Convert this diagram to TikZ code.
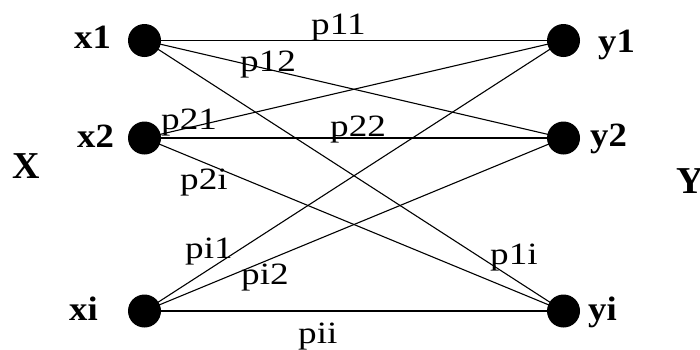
\documentclass[tikz,border=0pt]{standalone}
\usepackage{fontspec}
\setmainfont{Liberation Serif}
\begin{document}
\begin{tikzpicture}[x=1pt,y=-1pt,
  dotnode/.style={circle,fill=black,inner sep=0pt,minimum size=33pt},
  vlabel/.style={anchor=base west,inner sep=0pt,font=\bfseries\fontsize{34}{34}\selectfont,xscale=1.08},
  setlabel/.style={anchor=base west,inner sep=0pt,font=\bfseries\fontsize{38}{38}\selectfont},
  plabel/.style={anchor=base west,inner sep=0pt,font=\fontsize{31}{31}\selectfont,xscale=1.2},
  edge/.style={draw=black,line width=1.1pt},
  hedge/.style={draw=black,line width=1.5pt}]
\clip (0,0) rectangle (700,349);
\useasboundingbox (0,0) rectangle (700,349);
% dots
\coordinate (cx1) at (144.5,40.5);
\coordinate (cx2) at (144.5,138);
\coordinate (cxi) at (144.5,311);
\coordinate (cy1) at (563.5,40.5);
\coordinate (cy2) at (563.5,138);
\coordinate (cyi) at (563.5,311);
% edges
\draw[hedge] (cx1) -- (cy1);
\draw[edge] (cx1) -- (cy2);
\draw[edge] (cx1) -- (cyi);
\draw[edge] (cx2) -- (cy1);
\draw[hedge] (cx2) -- (cy2);
\draw[edge] (cx2) -- (cyi);
\draw[edge] (cxi) -- (cy1);
\draw[edge] (cxi) -- (cy2);
\draw[hedge] (cxi) -- (cyi);
\node[dotnode] (x1) at (cx1) {};
\node[dotnode] (x2) at (cx2) {};
\node[dotnode] (xi) at (cxi) {};
\node[dotnode] (y1) at (cy1) {};
\node[dotnode] (y2) at (cy2) {};
\node[dotnode] (yi) at (cyi) {};
% vertex labels
\node[vlabel] (lx1) at (74,48) {x1};
\node[vlabel] (lx2) at (77,147) {x2};
\node[vlabel] (lxi) at (69,320) {xi};
\node[vlabel] (ly1) at (598,52) {y1};
\node[vlabel] (ly2) at (590,146) {y2};
\node[vlabel] (lyi) at (588,320) {yi};
\node[setlabel] (lX) at (12,178) {X};
\node[setlabel] (lY) at (676,193) {Y};
% edge labels
\node[plabel] (p11) at (311,34) {p11};
\node[plabel] (p12) at (240,71) {p12};
\node[plabel] (p21) at (161,129) {p21};
\node[plabel] (p22) at (330,136) {p22};
\node[plabel] (p2i) at (180,189) {p2i};
\node[plabel] (pi1) at (185,258) {pi1};
\node[plabel] (pi2) at (241,284) {pi2};
\node[plabel] (pii) at (298,343) {pii};
\node[plabel] (p1i) at (490,264) {p1i};
\end{tikzpicture}
\end{document}
